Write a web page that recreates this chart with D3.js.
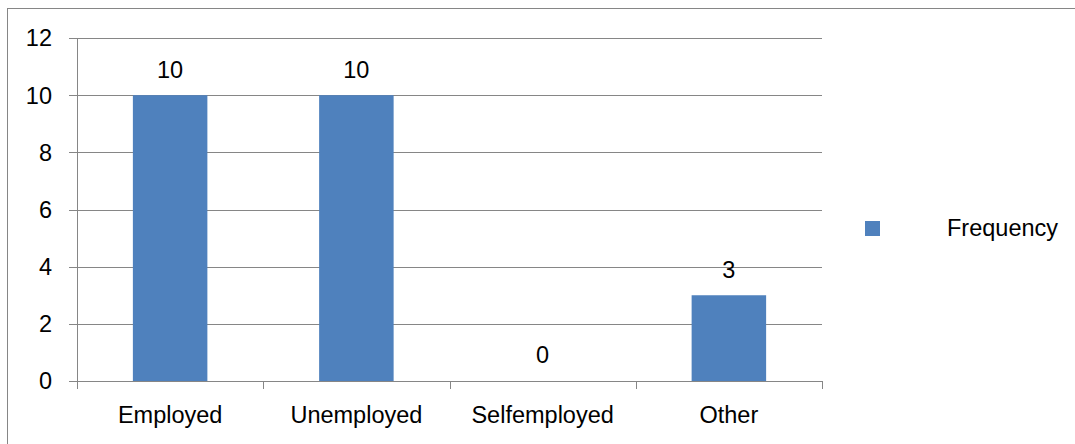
<!DOCTYPE html>
<html>
<head>
<meta charset="utf-8">
<script src="https://cdn.jsdelivr.net/npm/d3@7"></script>
<style>
  body { margin: 0; background: #fff; }
  text { font-family: "Liberation Sans", Arial, sans-serif; fill: #000; }
</style>
</head>
<body>
<svg id="chart" width="1075" height="444"></svg>
<script>
const categories = ["Employed", "Unemployed", "Selfemployed", "Other"];
const frequency = [10, 10, 0, 3];
const yTicks = [0, 2, 4, 6, 8, 10, 12];
const seriesName = "Frequency";

const svg = d3.select("#chart");
const fontSize = 23.5;

// outer chart border (right and bottom edges fall outside the crop)
svg.append("rect")
  .attr("x", 7.5).attr("y", 8.5)
  .attr("width", 1080).attr("height", 445)
  .attr("fill", "none").attr("stroke", "#868686").attr("stroke-width", 1);

const x = d3.scaleBand()
  .domain(categories)
  .range([77, 822])
  .paddingInner(0.6)
  .paddingOuter(0.3);

const y = d3.scaleLinear()
  .domain([0, 12])
  .range([381, 38]);

// gridlines
svg.append("g")
  .selectAll("line")
  .data(yTicks)
  .join("line")
  .attr("x1", 69).attr("x2", 822)
  .attr("y1", (d) => Math.round(y(d)) + 0.5)
  .attr("y2", (d) => Math.round(y(d)) + 0.5)
  .attr("stroke", "#868686");

// y axis line
svg.append("line")
  .attr("x1", 77.5).attr("x2", 77.5)
  .attr("y1", y(12)).attr("y2", y(0))
  .attr("stroke", "#868686");

// y tick labels
svg.append("g")
  .selectAll("text")
  .data(yTicks)
  .join("text")
  .attr("x", 52)
  .attr("y", (d) => y(d))
  .attr("dy", "0.36em")
  .attr("text-anchor", "end")
  .attr("font-size", fontSize)
  .text((d) => d);

// category tick marks at band edges
const halfGap = (x.step() - x.bandwidth()) / 2;
svg.append("g")
  .selectAll("line")
  .data([77, ...categories.slice(1).map((c) => x(c) - halfGap), 822])
  .join("line")
  .attr("x1", (d) => Math.round(d) + 0.5).attr("x2", (d) => Math.round(d) + 0.5)
  .attr("y1", y(0)).attr("y2", y(0) + 8)
  .attr("stroke", "#868686");

// bars
svg.append("g")
  .selectAll("rect")
  .data(categories)
  .join("rect")
  .attr("x", (d) => x(d))
  .attr("width", x.bandwidth())
  .attr("y", (d, i) => y(frequency[i]))
  .attr("height", (d, i) => y(0) - y(frequency[i]))
  .attr("fill", "#4F81BD");

// value labels
svg.append("g")
  .selectAll("text")
  .data(categories)
  .join("text")
  .attr("x", (d) => x(d) + x.bandwidth() / 2)
  .attr("y", (d, i) => y(frequency[i]) - 26)
  .attr("dy", "0.36em")
  .attr("text-anchor", "middle")
  .attr("font-size", fontSize)
  .text((d, i) => frequency[i]);

// category labels
svg.append("g")
  .selectAll("text")
  .data(categories)
  .join("text")
  .attr("x", (d) => x(d) + x.bandwidth() / 2)
  .attr("y", 415)
  .attr("dy", "0.36em")
  .attr("text-anchor", "middle")
  .attr("font-size", fontSize)
  .text((d) => d);

// legend
svg.append("rect")
  .attr("x", 865).attr("y", 221)
  .attr("width", 15).attr("height", 15)
  .attr("fill", "#4F81BD");
svg.append("text")
  .attr("x", 947).attr("y", 228)
  .attr("dy", "0.36em")
  .attr("font-size", fontSize)
  .text(seriesName);
</script>
</body>
</html>
